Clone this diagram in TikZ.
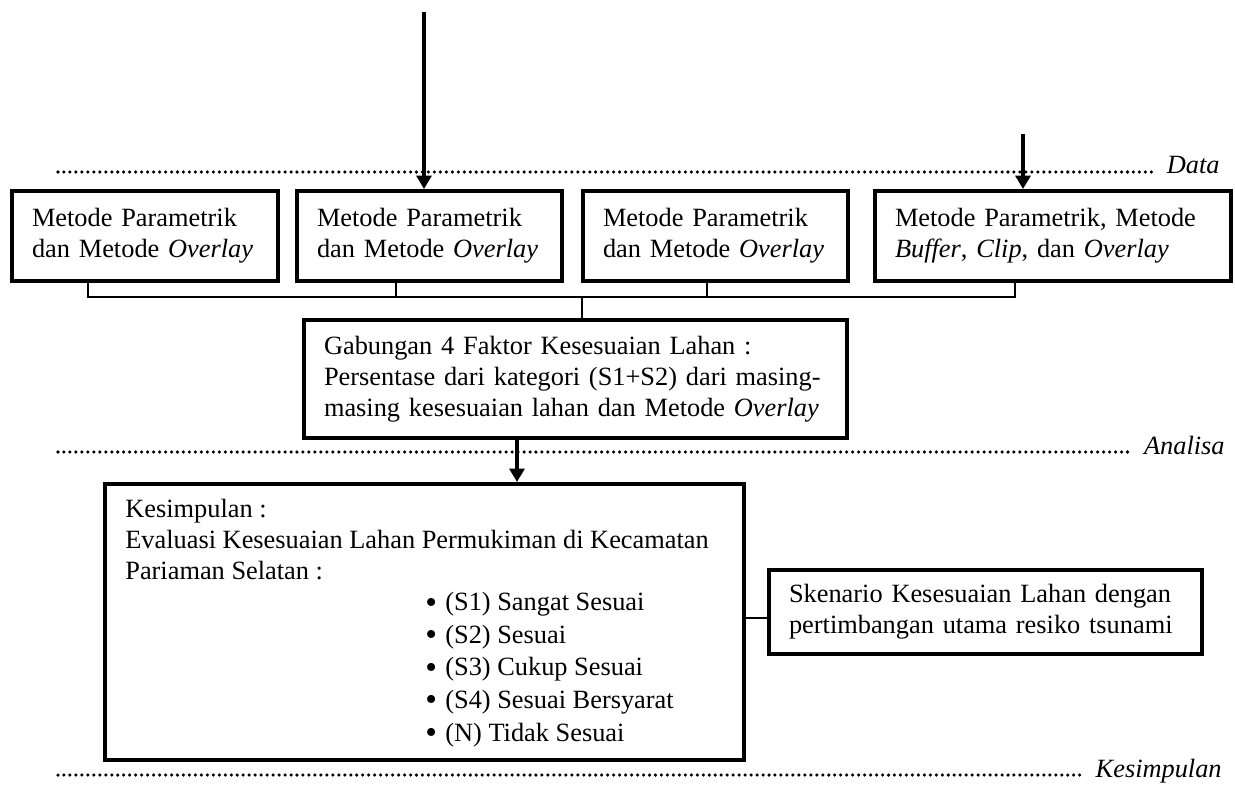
\documentclass[tikz,border=0pt]{standalone}
\usepackage{fontspec}
\setmainfont{Liberation Serif}
\usetikzlibrary{positioning,arrows.meta}

\newcommand{\blt}{\makebox[0.4cm][l]{\raisebox{-1.3pt}{\fontsize{19}{19}\selectfont\textbullet}}}

\begin{document}
\begin{tikzpicture}[
  font=\fontsize{15}{17.6}\selectfont,
  box/.style={draw, line width=2.3pt, anchor=north west, align=left, inner xsep=0.4cm, inner ysep=4pt},
  conn/.style={line width=1.6pt},
  arr/.style={-{Triangle[length=0.27cm, width=0.3cm]}, line width=2pt},
  sep/.style={line width=2pt, dash pattern=on 0pt off 3.4pt, line cap=round},
  lvl/.style={font=\fontsize{15}{17.6}\selectfont\itshape, anchor=base east, inner sep=0pt},
]
\useasboundingbox (0,0) rectangle (24.7,-15.7);
% level lines
\draw[sep] (1.16,-3.44) -- (23.14,-3.44);
\node[lvl] (lData) at (24.4,-3.46) {Data};
\draw[sep] (1.16,-9.04) -- (22.64,-9.04);
\node[lvl] (lAnalisa) at (24.5,-9.08) {Analisa};
\draw[sep] (1.16,-15.5) -- (21.66,-15.5);
\node[lvl] (lKesimpulan) at (24.44,-15.54) {Kesimpulan};
% data boxes
\node[box, minimum width=5.32cm, minimum height=1.8cm, text width=4.52cm] (b1) at (0.2,-3.78)
  {Metode Parametrik\\dan Metode \textit{Overlay}};
\node[box, minimum width=5.3cm, minimum height=1.8cm, text width=4.5cm] (b2) at (5.9,-3.78)
  {Metode Parametrik\\dan Metode \textit{Overlay}};
\node[box, minimum width=5.3cm, minimum height=1.8cm, text width=4.5cm] (b3) at (11.62,-3.78)
  {Metode Parametrik\\dan Metode \textit{Overlay}};
\node[box, minimum width=7.12cm, minimum height=1.8cm, text width=6.32cm] (b4) at (17.46,-3.78)
  {Metode Parametrik, Metode\\\textit{Buffer}, \textit{Clip}, dan \textit{Overlay}};
% inputs
\coordinate (in1) at (8.48,-0.24);
\coordinate (in2) at (20.46,-2.68);
\draw[arr] (in1) -- (in1 |- b2.north);
\draw[arr] (in2) -- (in2 |- b4.north);
% combined factors
\node[box, minimum width=10.86cm, minimum height=2.36cm, text width=10.06cm] (gab) at (6.04,-6.36)
  {Gabungan 4 Faktor Kesesuaian Lahan :\\
   Persentase dari kategori (S1+S2) dari masing-\\
   masing kesesuaian lahan dan Metode \textit{Overlay}};
% bus
\coordinate (s1) at (1.76,-5.94);
\coordinate (s2) at (7.92,-5.94);
\coordinate (s3) at (14.14,-5.94);
\coordinate (s4) at (20.3,-5.94);
\coordinate (sg) at (11.64,-5.94);
\draw[conn] (s1 |- b1.south) -- (s1) -- (s4) -- (s4 |- b4.south);
\draw[conn] (s2 |- b2.south) -- (s2);
\draw[conn] (s3 |- b3.south) -- (s3);
\draw[conn] (sg) -- (sg |- gab.north);
% conclusion
\node[box, minimum width=12.78cm, minimum height=5.52cm] (kes) at (2.06,-9.64) {};
\node[anchor=base west, inner sep=0pt, align=left] (kesHead) at (2.5,-11.58)
  {Kesimpulan :\\
   Evaluasi Kesesuaian Lahan Permukiman di Kecamatan\\
   Pariaman Selatan :};
\node[anchor=base west, inner sep=0pt, align=left, font=\fontsize{15}{18.5}\selectfont] (kesList) at (8.5,-14.82)
  {\blt(S1) Sangat Sesuai\\
   \blt(S2) Sesuai\\
   \blt(S3) Cukup Sesuai\\
   \blt(S4) Sesuai Bersyarat\\
   \blt(N) Tidak Sesuai};
\coordinate (a3) at (10.34,-9.0);
\draw[arr] (a3 |- gab.south) -- (a3 |- kes.north);
% scenario
\node[box, minimum width=8.66cm, minimum height=1.68cm, text width=7.86cm] (sken) at (15.34,-11.36)
  {Skenario Kesesuaian Lahan dengan\\pertimbangan utama resiko tsunami};
\coordinate (c5) at (0,-12.36);
\draw[conn] (kes.east |- c5) -- (sken.west |- c5);
\end{tikzpicture}
\end{document}
